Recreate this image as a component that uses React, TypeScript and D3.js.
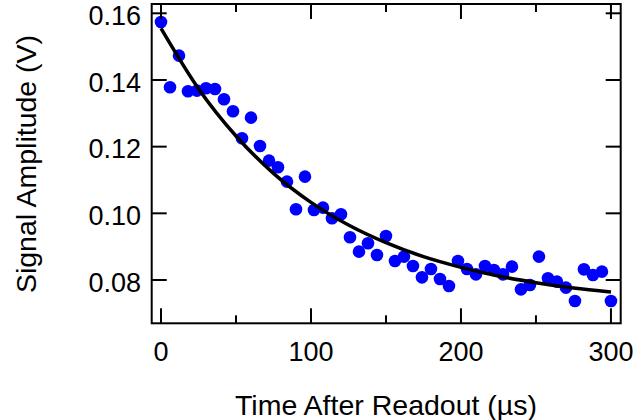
import React from "react";
import * as d3 from "d3";

// Measured data: time after readout (µs) and signal amplitude (V)
const times = [
  0, 6, 12, 18, 24, 30, 36, 42, 48, 54, 60, 66, 72, 78, 84, 90, 96, 102, 108, 114,
  120, 126, 132, 138, 144, 150, 156, 162, 168, 174, 180, 186, 192, 198, 204, 210,
  216, 222, 228, 234, 240, 246, 252, 258, 264, 270, 276, 282, 288, 294, 300,
];
const amplitudes = [
  0.1574, 0.1378, 0.1473, 0.1366, 0.1368, 0.1375, 0.1373, 0.1342, 0.1306, 0.1225,
  0.1287, 0.1202, 0.1158, 0.1138, 0.1095, 0.1012, 0.111, 0.101, 0.1017, 0.0985,
  0.0997, 0.0928, 0.0885, 0.091, 0.0875, 0.0932, 0.0857, 0.087, 0.0842, 0.0808,
  0.0833, 0.0803, 0.0782, 0.0857, 0.0833, 0.0817, 0.0842, 0.083, 0.0817, 0.084,
  0.0772, 0.0785, 0.087, 0.0805, 0.0795, 0.0777, 0.0737, 0.0832, 0.0815, 0.0825,
  0.0737,
];

// Fit curve
const fitTimes = [0, 25, 50, 75, 100, 125, 150, 175, 200, 225, 250, 275, 300];
const fitValues = [
  0.1555, 0.1374, 0.1232, 0.112, 0.1033, 0.0965, 0.0912, 0.087, 0.0838, 0.0812,
  0.0792, 0.0776, 0.0764,
];

const xMajorTicks = [0, 100, 200, 300];
const xMinorTicks = [50, 150, 250];
const yTicks = [0.08, 0.1, 0.12, 0.14, 0.16];

const xTitle = "Time After Readout (\u00b5s)";
const yTitle = "Signal Amplitude (V)";

export default function App() {
  const W = 636;
  const H = 420;
  const left = 151.7;
  const right = 620.7;
  const top = 4;
  const bottom = 323.3;

  const x = d3.scaleLinear().domain([-6.2, 306.5]).range([left, right]);
  const y = d3.scaleLinear().domain([0.06701, 0.16279]).range([bottom, top]);

  const line = d3
    .line<number>()
    .x((_, i) => x(fitTimes[i]))
    .y((d) => y(d))
    .curve(d3.curveMonotoneX);

  const font = "'Liberation Sans', Arial, Helvetica, sans-serif";
  const major = 15;
  const minor = 8;

  return (
    <svg
      width={W}
      height={H}
      style={{ position: "absolute", left: 0, top: 0, background: "#fff" }}
      fontFamily={font}
    >
      <rect x={0} y={0} width={W} height={H} fill="#fff" />
      {times.map((t, i) => (
        <circle key={i} cx={x(t)} cy={y(amplitudes[i])} r={6.3} fill="#0000ff" />
      ))}
      <path d={line(fitValues) || ""} fill="none" stroke="#000" strokeWidth={3.5} />

      {/* frame */}
      <rect
        x={left}
        y={top}
        width={right - left}
        height={bottom - top}
        fill="none"
        stroke="#000"
        strokeWidth={2}
      />
      {/* x ticks */}
      {xMajorTicks.map((t) => (
        <g key={"xm" + t}>
          <line x1={x(t)} x2={x(t)} y1={bottom} y2={bottom - major} stroke="#000" strokeWidth={2} />
          <line x1={x(t)} x2={x(t)} y1={top} y2={top + major} stroke="#000" strokeWidth={2} />
          <text x={x(t)} y={361} textAnchor="middle" fontSize={27} fill="#000">
            {t}
          </text>
        </g>
      ))}
      {xMinorTicks.map((t) => (
        <g key={"xn" + t}>
          <line x1={x(t)} x2={x(t)} y1={bottom} y2={bottom - minor} stroke="#000" strokeWidth={2} />
          <line x1={x(t)} x2={x(t)} y1={top} y2={top + minor} stroke="#000" strokeWidth={2} />
        </g>
      ))}
      {/* y ticks */}
      {yTicks.map((v) => (
        <g key={"y" + v}>
          <line x1={left} x2={left + major} y1={y(v)} y2={y(v)} stroke="#000" strokeWidth={2} />
          <line x1={right} x2={right - major} y1={y(v)} y2={y(v)} stroke="#000" strokeWidth={2} />
          <text x={141} y={y(v) + 11.7} textAnchor="end" fontSize={27} fill="#000">
            {v.toFixed(2)}
          </text>
        </g>
      ))}
      <text x={386} y={415} textAnchor="middle" fontSize={28.5} fill="#000">
        {xTitle}
      </text>
      <text
        transform="translate(36,164) rotate(-90)"
        textAnchor="middle"
        fontSize={28.5}
        fill="#000"
      >
        {yTitle}
      </text>
    </svg>
  );
}
